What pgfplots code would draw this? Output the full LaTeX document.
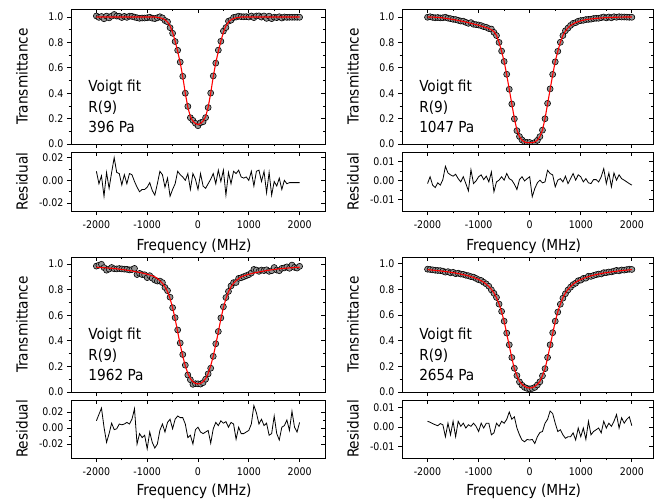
\documentclass[border=0pt]{standalone}
\usepackage{fontspec}
\setmainfont{DejaVu Sans Condensed}
\usepackage{pgfplots}
\usepackage{pgfplotstable}
\pgfplotsset{compat=1.18}

% x: frequency (MHz), d: measured transmittance, f: Voigt fit, r: residual
\pgfplotstableread{
x d f r
-2000 1.008 1.000 0.008
-1950 0.997 1.000 -0.003
-1900 1.004 1.000 0.004
-1850 0.986 1.000 -0.014
-1800 1.007 1.000 0.007
-1750 0.993 1.000 -0.007
-1700 1.007 1.000 0.007
-1650 1.020 1.000 0.020
-1600 1.007 1.000 0.007
-1550 1.006 1.000 0.006
-1500 0.996 1.000 -0.004
-1450 1.005 1.000 0.005
-1400 0.997 1.000 -0.003
-1350 1.006 1.000 0.006
-1300 1.005 1.000 0.005
-1250 0.999 1.000 -0.001
-1200 0.994 1.000 -0.006
-1150 0.990 1.000 -0.010
-1100 0.992 1.000 -0.008
-1050 0.992 1.000 -0.008
-1000 0.994 1.000 -0.006
-950 0.998 1.000 -0.002
-900 0.991 1.000 -0.009
-850 0.987 1.000 -0.013
-800 0.994 0.997 -0.003
-750 1.002 0.994 0.008
-700 0.993 0.988 0.005
-650 0.972 0.978 -0.006
-600 0.962 0.960 0.002
-550 0.916 0.930 -0.014
-500 0.872 0.880 -0.008
-450 0.807 0.810 -0.003
-400 0.738 0.730 0.008
-350 0.645 0.640 0.005
-300 0.533 0.530 0.003
-250 0.400 0.400 0.000
-200 0.296 0.290 0.006
-150 0.207 0.215 -0.008
-100 0.186 0.180 0.006
-50 0.163 0.162 0.001
0 0.144 0.152 -0.008
50 0.168 0.162 0.006
100 0.175 0.180 -0.005
150 0.208 0.215 -0.007
200 0.287 0.290 -0.003
250 0.401 0.400 0.001
300 0.536 0.530 0.006
350 0.637 0.640 -0.003
400 0.739 0.730 0.009
450 0.809 0.810 -0.001
500 0.889 0.880 0.009
550 0.917 0.930 -0.013
600 0.967 0.960 0.007
650 0.975 0.978 -0.003
700 0.996 0.988 0.008
750 1.000 0.994 0.006
800 1.006 0.997 0.009
850 1.003 1.000 0.003
900 1.002 1.000 0.002
950 1.003 1.000 0.003
1000 1.000 1.000 0.000
1050 1.008 1.000 0.008
1100 0.995 1.000 -0.005
1150 1.008 1.000 0.008
1200 1.009 1.000 0.009
1250 0.999 1.000 -0.001
1300 1.008 1.000 0.008
1350 0.989 1.000 -0.011
1400 1.007 1.000 0.007
1450 0.987 1.000 -0.013
1500 0.999 1.000 -0.001
1550 0.995 1.000 -0.005
1600 1.002 1.000 0.002
1650 0.992 1.000 -0.008
1700 1.000 1.000 0.000
1750 0.997 1.000 -0.003
1800 0.998 1.000 -0.002
1850 0.998 1.000 -0.002
1900 0.998 1.000 -0.002
1950 0.998 1.000 -0.002
2000 0.998 1.000 -0.002
}\pA

\pgfplotstableread{
x d f r
-2000 0.998 1.000 -0.0016
-1950 1.002 1.000 0.0020
-1900 0.997 0.999 -0.0024
-1850 0.994 0.998 -0.0037
-1800 0.996 0.997 -0.0012
-1750 0.993 0.995 -0.0024
-1700 0.994 0.993 0.0005
-1650 0.998 0.990 0.0075
-1600 0.991 0.987 0.0040
-1550 0.987 0.984 0.0030
-1500 0.982 0.980 0.0023
-1450 0.980 0.977 0.0033
-1400 0.974 0.973 0.0010
-1350 0.968 0.969 -0.0007
-1300 0.967 0.965 0.0020
-1250 0.958 0.960 -0.0016
-1200 0.950 0.955 -0.0054
-1150 0.956 0.950 0.0057
-1100 0.943 0.945 -0.0016
-1050 0.940 0.940 -0.0002
-1000 0.937 0.935 0.0020
-950 0.932 0.929 0.0030
-900 0.924 0.923 0.0005
-850 0.919 0.917 0.0023
-800 0.909 0.910 -0.0007
-750 0.905 0.900 0.0045
-700 0.879 0.885 -0.0059
-650 0.854 0.855 -0.0007
-600 0.800 0.800 0.0002
-550 0.732 0.730 0.0020
-500 0.650 0.650 0.0002
-450 0.549 0.545 0.0037
-400 0.431 0.430 0.0010
-350 0.315 0.315 0.0002
-300 0.198 0.200 -0.0019
-250 0.105 0.110 -0.0047
-200 0.059 0.058 0.0005
-150 0.032 0.030 0.0020
-100 0.016 0.016 -0.0002
-50 0.012 0.011 0.0010
0 0.012 0.010 0.0020
50 0.003 0.011 -0.0085
100 0.012 0.016 -0.0042
150 0.029 0.030 -0.0012
200 0.058 0.058 0.0002
250 0.109 0.110 -0.0012
300 0.199 0.200 -0.0007
350 0.320 0.315 0.0054
400 0.434 0.430 0.0037
450 0.548 0.545 0.0030
500 0.647 0.650 -0.0033
550 0.730 0.730 0.0002
600 0.801 0.800 0.0010
650 0.854 0.855 -0.0007
700 0.892 0.890 0.0023
750 0.913 0.915 -0.0016
800 0.934 0.933 0.0010
850 0.950 0.946 0.0037
900 0.956 0.956 0.0002
950 0.967 0.964 0.0030
1000 0.972 0.970 0.0020
1050 0.974 0.975 -0.0007
1100 0.980 0.979 0.0010
1150 0.981 0.982 -0.0012
1200 0.983 0.985 -0.0016
1250 0.988 0.987 0.0005
1300 0.990 0.989 0.0005
1350 0.990 0.991 -0.0007
1400 0.995 0.993 0.0020
1450 1.000 0.994 0.0063
1500 0.993 0.995 -0.0016
1550 1.000 0.996 0.0040
1600 0.994 0.997 -0.0033
1650 1.002 0.998 0.0040
1700 0.998 0.998 0.0002
1750 1.002 0.999 0.0030
1800 1.000 0.999 0.0010
1850 1.000 1.000 0.0002
1900 0.999 1.000 -0.0007
1950 0.998 1.000 -0.0016
2000 0.998 1.000 -0.0024
}\pB

\pgfplotstableread{
x d f r
-2000 0.984 0.975 0.009
-1950 0.991 0.974 0.017
-1900 0.998 0.973 0.025
-1850 0.972 0.971 0.001
-1800 0.952 0.970 -0.018
-1750 0.961 0.968 -0.007
-1700 0.973 0.967 0.006
-1650 0.963 0.965 -0.002
-1600 0.962 0.963 -0.001
-1550 0.965 0.960 0.005
-1500 0.962 0.958 0.004
-1450 0.960 0.955 0.005
-1400 0.959 0.952 0.007
-1350 0.954 0.949 0.005
-1300 0.957 0.946 0.011
-1250 0.966 0.942 0.024
-1200 0.918 0.938 -0.020
-1150 0.927 0.934 -0.007
-1100 0.918 0.930 -0.012
-1050 0.916 0.925 -0.009
-1000 0.894 0.920 -0.026
-950 0.909 0.914 -0.005
-900 0.890 0.908 -0.018
-850 0.875 0.900 -0.025
-800 0.867 0.887 -0.020
-750 0.867 0.870 -0.003
-700 0.855 0.850 0.005
-650 0.817 0.822 -0.005
-600 0.792 0.785 0.007
-550 0.741 0.730 0.011
-500 0.659 0.660 -0.001
-450 0.581 0.570 0.011
-400 0.485 0.470 0.015
-350 0.383 0.370 0.013
-300 0.293 0.280 0.013
-250 0.210 0.205 0.005
-200 0.133 0.145 -0.012
-150 0.096 0.105 -0.009
-100 0.060 0.080 -0.020
-50 0.065 0.067 -0.002
0 0.064 0.063 0.001
50 0.062 0.067 -0.005
100 0.073 0.080 -0.007
150 0.100 0.105 -0.005
200 0.142 0.145 -0.003
250 0.186 0.205 -0.019
300 0.279 0.280 -0.001
350 0.377 0.370 0.007
400 0.473 0.470 0.003
450 0.579 0.570 0.009
500 0.666 0.660 0.006
550 0.738 0.730 0.008
600 0.786 0.785 0.001
650 0.829 0.822 0.007
700 0.855 0.850 0.005
750 0.856 0.870 -0.014
800 0.888 0.887 0.001
850 0.893 0.900 -0.007
900 0.901 0.908 -0.007
950 0.909 0.914 -0.005
1000 0.917 0.920 -0.003
1050 0.930 0.925 0.005
1100 0.958 0.930 0.028
1150 0.953 0.934 0.019
1200 0.943 0.938 0.005
1250 0.953 0.942 0.011
1300 0.949 0.946 0.003
1350 0.955 0.949 0.006
1400 0.943 0.952 -0.009
1450 0.948 0.955 -0.007
1500 0.973 0.958 0.015
1550 0.953 0.960 -0.007
1600 0.948 0.963 -0.015
1650 0.966 0.965 0.001
1700 0.970 0.967 0.003
1750 0.978 0.968 0.010
1800 0.967 0.970 -0.003
1850 0.992 0.971 0.021
1900 0.974 0.973 0.001
1950 0.969 0.974 -0.005
2000 0.982 0.975 0.007
}\pC

\pgfplotstableread{
x d f r
-2000 0.957 0.954 0.0030
-1950 0.955 0.952 0.0025
-1900 0.952 0.950 0.0018
-1850 0.949 0.948 0.0012
-1800 0.947 0.946 0.0007
-1750 0.946 0.944 0.0018
-1700 0.942 0.941 0.0012
-1650 0.934 0.939 -0.0050
-1600 0.938 0.936 0.0020
-1550 0.929 0.933 -0.0040
-1500 0.933 0.930 0.0030
-1450 0.922 0.927 -0.0050
-1400 0.926 0.923 0.0030
-1350 0.919 0.919 0.0004
-1300 0.917 0.915 0.0020
-1250 0.910 0.910 -0.0005
-1200 0.906 0.905 0.0012
-1150 0.899 0.899 0.0004
-1100 0.895 0.893 0.0020
-1050 0.885 0.885 0.0004
-1000 0.875 0.877 -0.0023
-950 0.869 0.867 0.0020
-900 0.855 0.855 -0.0005
-850 0.842 0.840 0.0020
-800 0.824 0.822 0.0020
-750 0.796 0.800 -0.0040
-700 0.769 0.772 -0.0030
-650 0.737 0.735 0.0020
-600 0.685 0.685 0.0004
-550 0.628 0.625 0.0030
-500 0.552 0.550 0.0020
-450 0.459 0.455 0.0040
-400 0.368 0.360 0.0078
-350 0.269 0.265 0.0040
-300 0.185 0.180 0.0053
-250 0.128 0.128 -0.0005
-200 0.079 0.083 -0.0040
-150 0.053 0.060 -0.0067
-100 0.036 0.044 -0.0076
-50 0.028 0.034 -0.0064
0 0.024 0.031 -0.0067
50 0.028 0.034 -0.0064
100 0.036 0.044 -0.0085
150 0.055 0.060 -0.0050
200 0.080 0.083 -0.0028
250 0.126 0.128 -0.0023
300 0.182 0.180 0.0020
350 0.269 0.265 0.0040
400 0.368 0.360 0.0083
450 0.462 0.455 0.0070
500 0.552 0.550 0.0020
550 0.623 0.625 -0.0023
600 0.684 0.685 -0.0014
650 0.731 0.735 -0.0040
700 0.766 0.772 -0.0058
750 0.795 0.800 -0.0050
800 0.817 0.822 -0.0050
850 0.837 0.840 -0.0030
900 0.848 0.855 -0.0067
950 0.867 0.867 -0.0005
1000 0.872 0.877 -0.0050
1050 0.885 0.885 -0.0005
1100 0.887 0.893 -0.0064
1150 0.902 0.899 0.0030
1200 0.901 0.905 -0.0040
1250 0.908 0.910 -0.0023
1300 0.914 0.915 -0.0014
1350 0.919 0.919 -0.0005
1400 0.920 0.923 -0.0030
1450 0.930 0.927 0.0030
1500 0.930 0.930 -0.0005
1550 0.935 0.933 0.0020
1600 0.936 0.936 0.0004
1650 0.942 0.939 0.0030
1700 0.948 0.941 0.0065
1750 0.944 0.944 -0.0005
1800 0.951 0.946 0.0048
1850 0.950 0.948 0.0020
1900 0.954 0.950 0.0040
1950 0.957 0.952 0.0053
2000 0.955 0.954 0.0007
}\pD

\pgfplotsset{
  base/.style={
    scale only axis, anchor=north west,
    xmin=-2500, clip marker paths=true,
    scaled y ticks=false, scaled x ticks=false,
    xtick={-2000,-1000,0,1000,2000}, minor x tick num=1, minor y tick num=1,
    xticklabel style={/pgf/number format/set thousands separator={}, yshift=-2pt},
    axis line style={line width=0.8pt},
    every tick/.style={black, line width=0.8pt},
    major tick length=4pt, minor tick length=2.4pt,
    tick label style={font=\fontsize{10.5}{12}\selectfont},
    label style={font=\fontsize{15.2}{18}\selectfont},
    /pgf/number format/assume math mode=true,
  },
  lcol/.style={width=254pt, xmax=2500,
    ylabel style={at={(axis description cs:-0.193,0.5)}, anchor=center}},
  rcol/.style={width=251.3pt, xmax=2420,
    ylabel style={at={(axis description cs:-0.195,0.5)}, anchor=center}},
  panel/.style={base, tick align=outside, xtick pos=left, ytick pos=left},
  mirror/.style={base, tick align=inside, xtick pos=right, ytick pos=right,
    xticklabels={}, yticklabels={}},
  main/.style={height=135pt, ymin=0, ytick={0,0.2,0.4,0.6,0.8,1},
    yticklabel style={/pgf/number format/fixed, /pgf/number format/fixed zerofill,
      /pgf/number format/precision=1}},
  res/.style={ytick={-0.02,0,0.02},
    yticklabel style={/pgf/number format/fixed, /pgf/number format/fixed zerofill,
      /pgf/number format/precision=2},
    xlabel style={at={(axis description cs:0.5,0)}, anchor=center, yshift=-35pt, xshift=-4pt}},
  res2/.style={res, ytick={-0.01,0,0.01}},
  lowrow/.style={xlabel style={yshift=2pt}},
  dots/.style={only marks, mark=*, mark size=3pt,
    mark options={fill=black!42, draw=black, line width=0.6pt}},
  fit/.style={red, line width=1.1pt},
  resline/.style={black, line width=0.8pt},
}

\newcommand{\info}[1]{\node[anchor=north west, inner sep=0pt, align=left,
  font=\fontsize{15.2}{20.5}\selectfont] at (axis description cs:0.068,0.474) {Voigt fit\\R(9)\\#1};}

\begin{document}
\begin{tikzpicture}
\useasboundingbox (0,0) rectangle (654pt,-499pt);

% top left
\begin{axis}[panel, lcol, main, at={(71pt,-9pt)}, ymax=1.063, xticklabels={}, ylabel={Transmittance}]
\addplot[dots] table[x=x, y=d] {\pA};
\addplot[fit] table[x=x, y=f] {\pA};
\info{396 Pa}
\end{axis}
\begin{axis}[mirror, lcol, main, at={(71pt,-9pt)}, ymax=1.063]
\end{axis}
\begin{axis}[panel, lcol, res, at={(71pt,-152pt)}, height=59pt, ymin=-0.027, ymax=0.025,
  xlabel={Frequency (MHz)}, ylabel={Residual}]
\addplot[resline] table[x=x, y=r] {\pA};
\end{axis}
\begin{axis}[mirror, lcol, res, at={(71pt,-152pt)}, height=59pt, ymin=-0.027, ymax=0.025]
\end{axis}

% top right
\begin{axis}[panel, rcol, main, at={(402pt,-9pt)}, ymax=1.063, xticklabels={}, ylabel={Transmittance}]
\addplot[dots] table[x=x, y=d] {\pB};
\addplot[fit] table[x=x, y=f] {\pB};
\info{1047 Pa}
\end{axis}
\begin{axis}[mirror, rcol, main, at={(402pt,-9pt)}, ymax=1.063]
\end{axis}
\begin{axis}[panel, rcol, res2, at={(402pt,-152pt)}, height=59pt, ymin=-0.016, ymax=0.015,
  xlabel={Frequency (MHz)}, ylabel={Residual}]
\addplot[resline] table[x=x, y=r] {\pB};
\end{axis}
\begin{axis}[mirror, rcol, res2, at={(402pt,-152pt)}, height=59pt, ymin=-0.016, ymax=0.015]
\end{axis}

% bottom left
\begin{axis}[panel, lcol, main, at={(71pt,-257pt)}, ymax=1.055, xticklabels={}, ylabel={Transmittance}]
\addplot[dots] table[x=x, y=d] {\pC};
\addplot[fit] table[x=x, y=f] {\pC};
\info{1962 Pa}
\end{axis}
\begin{axis}[mirror, lcol, main, at={(71pt,-257pt)}, ymax=1.055]
\end{axis}
\begin{axis}[panel, lcol, res, lowrow, at={(71pt,-400pt)}, height=58pt, ymin=-0.0375, ymax=0.035,
  xlabel={Frequency (MHz)}, ylabel={Residual}]
\addplot[resline] table[x=x, y=r] {\pC};
\end{axis}
\begin{axis}[mirror, lcol, res, at={(71pt,-400pt)}, height=58pt, ymin=-0.0375, ymax=0.035]
\end{axis}

% bottom right
\begin{axis}[panel, rcol, main, at={(402pt,-257pt)}, ymax=1.052, xticklabels={}, ylabel={Transmittance}]
\addplot[dots] table[x=x, y=d] {\pD};
\addplot[fit] table[x=x, y=f] {\pD};
\info{2654 Pa}
\end{axis}
\begin{axis}[mirror, rcol, main, at={(402pt,-257pt)}, ymax=1.052]
\end{axis}
\begin{axis}[panel, rcol, res2, lowrow, at={(402pt,-400pt)}, height=58pt, ymin=-0.016, ymax=0.014,
  xlabel={Frequency (MHz)}, ylabel={Residual}]
\addplot[resline] table[x=x, y=r] {\pD};
\end{axis}
\begin{axis}[mirror, rcol, res2, at={(402pt,-400pt)}, height=58pt, ymin=-0.016, ymax=0.014]
\end{axis}
\end{tikzpicture}
\end{document}
